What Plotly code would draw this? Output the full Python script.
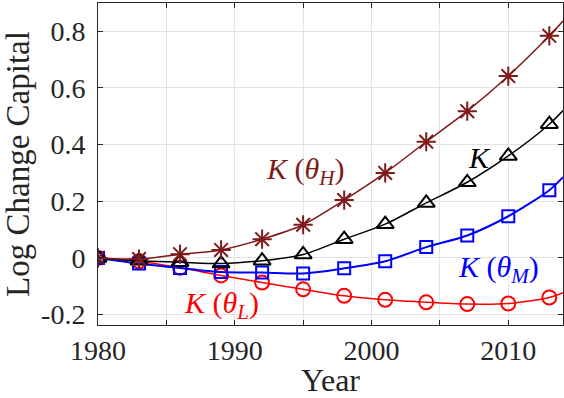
import plotly.graph_objects as go

# Years with markers (every third year) plus the final year of the sample
marker_years = [1980, 1983, 1986, 1989, 1992, 1995, 1998, 2001, 2004, 2007, 2010, 2013]
end_year = 2014

# Log change in capital, relative to 1980
k_high = [0.0, -0.004, 0.013, 0.028, 0.066, 0.117, 0.204, 0.300, 0.410, 0.518, 0.642, 0.784]
k_high_end = 0.836
k_total = [0.0, -0.010, -0.015, -0.020, -0.010, 0.012, 0.066, 0.119, 0.194, 0.267, 0.360, 0.472]
k_total_end = 0.520
k_mid = [0.0, -0.020, -0.036, -0.050, -0.052, -0.055, -0.037, -0.012, 0.038, 0.079, 0.147, 0.239]
k_mid_end = 0.285
k_low = [0.0, -0.012, -0.035, -0.062, -0.087, -0.111, -0.134, -0.148, -0.157, -0.163, -0.161, -0.140]
k_low_end = -0.123

x_tickvals = [1980, 1990, 2000, 2010]
x_ticktext = ["1980", "1990", "2000", "2010"]
y_tickvals = [-0.2, 0.0, 0.2, 0.4, 0.6, 0.8]
y_ticktext = ["-0.2", "0", "0.2", "0.4", "0.6", "0.8"]

FONT = "Liberation Serif"
AX = "#262626"
GRID = "#e3e3e3"

series = [
    ("K (θL)", k_low, k_low_end, "#ff0000", "circle-open", 14, 1.5),
    ("K (θM)", k_mid, k_mid_end, "#0000ff", "square-open", 12, 2.0),
    ("K", k_total, k_total_end, "#000000", "triangle-up-open", 15, 1.5),
    ("K (θH)", k_high, k_high_end, "#7f1a1a", "asterisk-open", 16, 1.5),
]

fig = go.Figure()
for name, vals, end_val, color, symbol, msize, lw in series:
    fig.add_trace(go.Scatter(
        x=marker_years + [end_year], y=vals + [end_val],
        mode="lines", line=dict(color=color, width=lw, shape="spline", smoothing=0.8),
        showlegend=False, hoverinfo="skip"))
    fig.add_trace(go.Scatter(
        x=marker_years, y=vals, mode="markers", name=name,
        marker=dict(symbol=symbol, size=msize, color=color,
                    line=dict(color=color, width=2)),
        showlegend=False))

labels = [
    ("<i>K</i> (<i>θ</i><sub><i>H</i></sub>)", 1995.1, 0.306, "#7f1a1a"),
    ("<i>K</i>", 2007.9, 0.356, "#000000"),
    ("<i>K</i> (<i>θ</i><sub><i>M</i></sub>)", 2009.3, -0.038, "#0000ff"),
    ("<i>K</i> (<i>θ</i><sub><i>L</i></sub>)", 1989.0, -0.166, "#ff0000"),
]
for text, lx, ly, color in labels:
    fig.add_annotation(x=lx, y=ly, xref="x", yref="y", text=text, showarrow=False,
                       font=dict(family=FONT, size=30, color=color))

fig.update_layout(
    width=564, height=398,
    margin=dict(l=98, r=1, t=3, b=73),
    paper_bgcolor="white", plot_bgcolor="white",
    font=dict(family=FONT, size=28, color=AX),
)
fig.update_xaxes(
    range=[1980, 2014], tickvals=x_tickvals, ticktext=x_ticktext,
    ticks="inside", ticklen=5, tickcolor=AX, tickwidth=1,
    minor=dict(tick0=1980, dtick=5, ticks="inside", ticklen=5, tickcolor=AX,
               showgrid=True, gridcolor=GRID, gridwidth=1),
    showline=True, linecolor=AX, linewidth=1, mirror="allticks",
    showgrid=True, gridcolor=GRID, gridwidth=1, zeroline=False,
    ticklabelstandoff=0,
    title=dict(text="Year", standoff=0, font=dict(size=32)),
)
fig.update_yaxes(
    range=[-0.237, 0.9], tickvals=y_tickvals, ticktext=y_ticktext,
    ticks="inside", ticklen=5, tickcolor=AX, tickwidth=1,
    showline=True, linecolor=AX, linewidth=1, mirror="allticks",
    showgrid=True, gridcolor=GRID, gridwidth=1, zeroline=False,
    ticklabelstandoff=6,
    title=dict(text="Log Change Capital", standoff=4, font=dict(size=33)),
)

fig.write_html("out.html")
